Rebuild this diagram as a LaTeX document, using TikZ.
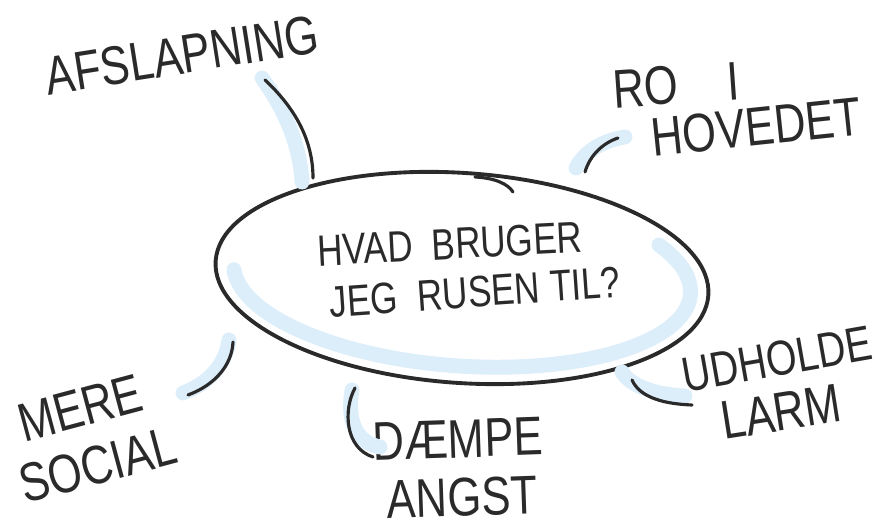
\documentclass[tikz,border=0pt]{standalone}
\usepackage{fontspec}
\usetikzlibrary{shapes.geometric}
\newfontfamily\hand[FakeStretch=0.8]{Liberation Sans}
\definecolor{ink}{HTML}{2A2A2A}
\definecolor{haze}{HTML}{DDEEFB}

\begin{document}
\begin{tikzpicture}[x=0.02cm, y=0.02cm,
    big/.style={font=\hand\fontsize{31}{34}\selectfont, text=ink, inner sep=0pt},
    mid/.style={font=\hand\fontsize{25}{28}\selectfont, text=ink, inner sep=0pt},
    link/.style={draw=ink, line width=1.8pt, line cap=round},
    halo/.style={draw=haze, line width=8.5pt, line cap=round}]
            \useasboundingbox (0,0) rectangle (878,527);

            %question
            \draw[halo, rotate around={-4:(462,249)}] (462,249) ++(185:229 and 88) arc[start angle=185, end angle=392, x radius=229, y radius=88];
            \node (Q) at (462,249) [ellipse, draw=ink, line width=2.2pt, minimum width=9.88cm, minimum height=4.2cm, rotate=-4, inner sep=0pt] {};
            \node (Q1) at (450,283) [mid, rotate=3] {HVAD\ \ BRUGER};
            \node (Q2) at (475,235) [mid, rotate=4] {JEG\ \ RUSEN TIL?};
            \draw[link] (475,350) .. controls (495,349) and (508,343) .. (513,335);

            %answers
            \node (A) at (182,472) [big, rotate=9] {AFSLAPNING};
            \node (R1) at (676,442) [big, rotate=4] {RO\ \ \ \ I};
            \node (R2) at (756,400) [big, rotate=6] {HOVEDET};
            \node (U1) at (777,168) [big, rotate=10, font=\hand\fontsize{28}{30}\selectfont] {UDHOLDE};
            \node (U2) at (781,115) [big, rotate=9] {LARM};
            \node (D1) at (458,88) [big, rotate=2] {DÆMPE};
            \node (D2) at (462,30) [big, rotate=2] {ANGST};
            \node (M1) at (80,119) [big, rotate=15] {MERE};
            \node (M2) at (98,62) [big, rotate=15] {SOCIAL};

            %ends of the links
            \coordinate (a1) at (265,447); \coordinate (a2) at (313,349);
            \coordinate (r1) at (585,355); \coordinate (r2) at (618,389);
            \coordinate (u1) at (632,147); \coordinate (u2) at (692,122);
            \coordinate (d1) at (355,139); \coordinate (d2) at (373,70);
            \coordinate (m1) at (233,185); \coordinate (m2) at (188,132);

            %shadows
            \draw[halo] ([shift={(-3,2)}]a1) .. controls (285,417) and (300,382) .. ([shift={(-11,-4)}]a2);
            \draw[halo] ([shift={(-9,4)}]r1) .. controls (585,377) and (605,387) .. ([shift={(7,1)}]r2);
            \draw[halo] ([shift={(-10,8)}]u1) .. controls (632,139) and (660,132) .. ([shift={(-7,9)}]u2);
            \draw[halo] ([shift={(-3,-2)}]d1) .. controls (347,107) and (355,85) .. ([shift={(7,10)}]d2);
            \draw[halo] ([shift={(-4,2)}]m1) .. controls (226,164) and (210,144) .. ([shift={(-5,2)}]m2);

            %links
            \draw[link] (a1) .. controls (295,419) and (313,387) .. (a2);
            \draw[link] (r1) .. controls (590,372) and (603,384) .. (r2);
            \draw[link] (u1) .. controls (640,129) and (665,123) .. (u2);
            \draw[link] (d1) .. controls (343,117) and (345,79) .. (d2);
            \draw[link] (m1) .. controls (232,162) and (215,142) .. (m2);

    \end{tikzpicture}
\end{document}
